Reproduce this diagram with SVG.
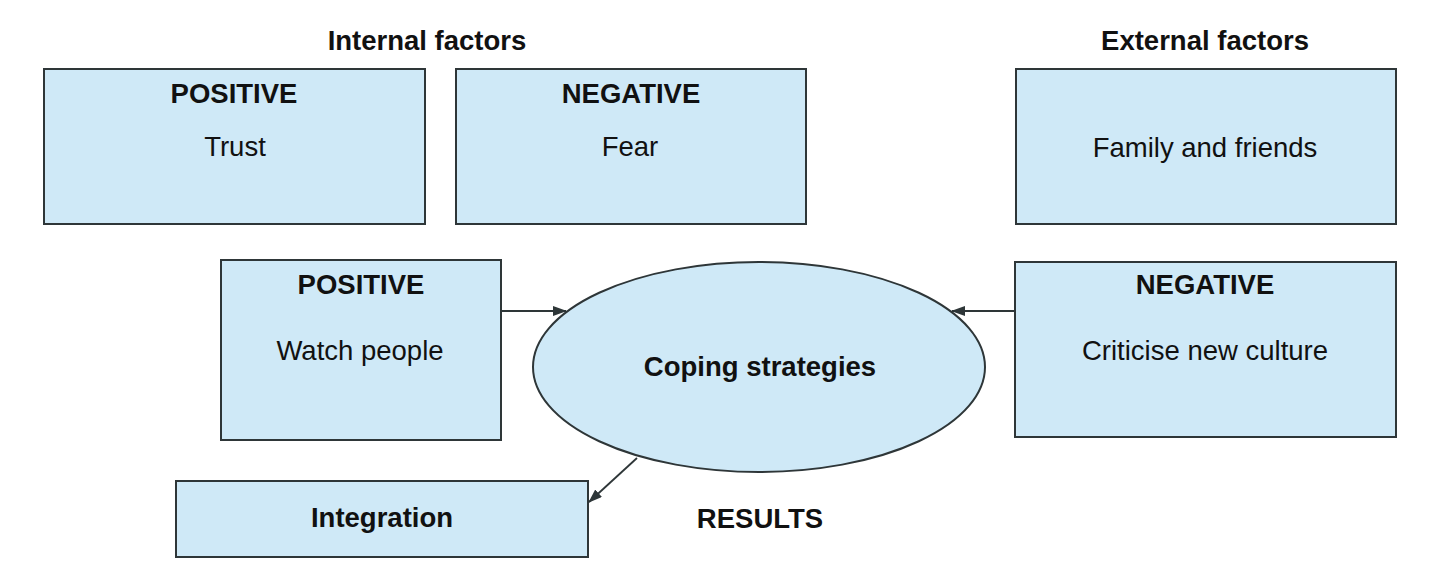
<svg xmlns="http://www.w3.org/2000/svg" width="1429" height="573" viewBox="0 0 1429 573">
<style>
.box{fill:#cfe9f7;stroke:#2e3638;stroke-width:2}
.t{font-family:"Liberation Sans",Arial,sans-serif;font-size:27.5px;fill:#111;text-anchor:middle}
.b{font-weight:bold}
.c{stroke:#2e3638;stroke-width:1.8;fill:none}
</style>
<defs>
<marker id="ah" markerWidth="14" markerHeight="10" refX="13" refY="5" orient="auto" markerUnits="userSpaceOnUse">
<path d="M0,0 L14,5 L0,10 Z" fill="#2e3638"/>
</marker>
</defs>
<rect width="1429" height="573" fill="#ffffff"/>
<text class="t b" x="427" y="50">Internal factors</text>
<text class="t b" x="1205" y="50">External factors</text>
<g id="pos-trust">
<rect class="box" x="44" y="69" width="381" height="155"/>
<text class="t b" x="234" y="103">POSITIVE</text>
<text class="t" x="235" y="156">Trust</text>
</g>
<g id="neg-fear">
<rect class="box" x="456" y="69" width="350" height="155"/>
<text class="t b" x="631" y="103">NEGATIVE</text>
<text class="t" x="630" y="156">Fear</text>
</g>
<g id="family">
<rect class="box" x="1016" y="69" width="380" height="155"/>
<text class="t" x="1205" y="157">Family and friends</text>
</g>
<g id="pos-watch">
<rect class="box" x="221" y="260" width="280" height="180"/>
<text class="t b" x="361" y="294">POSITIVE</text>
<text class="t" x="360" y="360">Watch people</text>
</g>
<g id="neg-criticise">
<rect class="box" x="1015" y="262" width="381" height="175"/>
<text class="t b" x="1205" y="294">NEGATIVE</text>
<text class="t" x="1205" y="360">Criticise new culture</text>
</g>
<g id="coping">
<ellipse class="box" cx="759" cy="367" rx="226" ry="105"/>
<text class="t b" x="760" y="376">Coping strategies</text>
</g>
<g id="integration">
<rect class="box" x="176" y="481" width="412" height="76"/>
<text class="t b" x="382" y="527">Integration</text>
</g>
<text class="t b" x="760" y="528">RESULTS</text>
<g id="connectors">
<line class="c" x1="501" y1="311" x2="566" y2="311" marker-end="url(#ah)"/>
<line class="c" x1="1015" y1="311" x2="952" y2="311" marker-end="url(#ah)"/>
<line class="c" x1="637" y1="458" x2="589" y2="502" marker-end="url(#ah)"/>
</g>
</svg>
